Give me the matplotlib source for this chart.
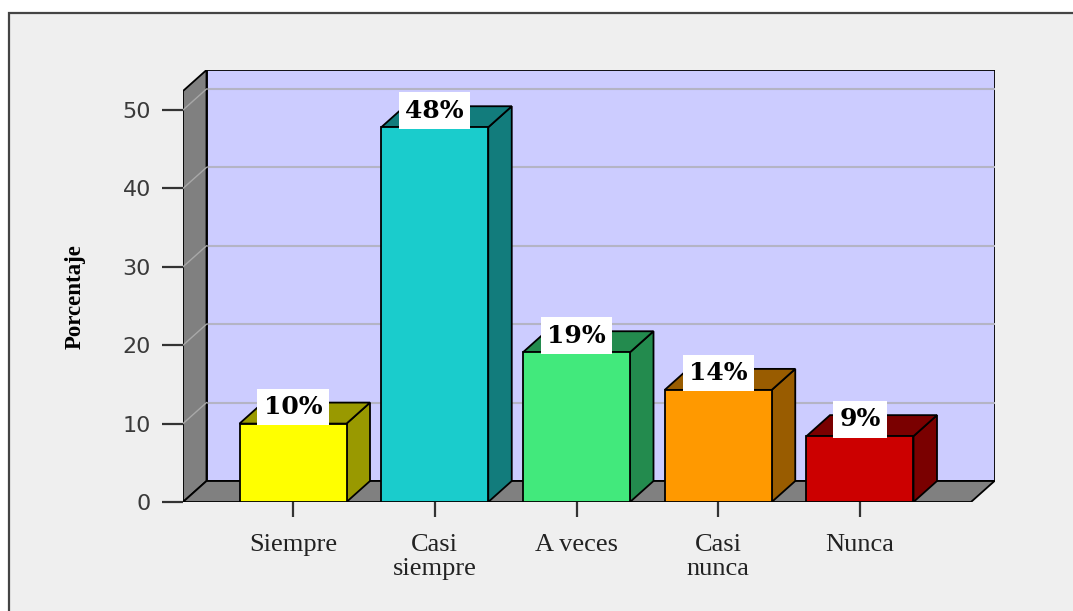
import matplotlib
matplotlib.use("Agg")
import matplotlib.pyplot as plt
from matplotlib.patches import Rectangle, Polygon

# datos
categorias = ["Siempre", "Casi\nsiempre", "A veces", "Casi\nnunca", "Nunca"]
valores = [10, 47.8, 19.1, 14.3, 8.4]
etiquetas = ["10%", "48%", "19%", "14%", "9%"]
frente = ["#FFFF00", "#1ACCCC", "#42E97C", "#FF9900", "#CC0000"]
lado = ["#999900", "#127C7C", "#238B4E", "#995C00", "#7A0000"]
yticks = [0, 10, 20, 30, 40, 50]

W, H = 1073, 611
fig = plt.figure(figsize=(W / 100, H / 100), dpi=100, facecolor="white")

# marco exterior
fig.patches.append(Rectangle((9 / W, -0.1), 1.2, (H - 13) / H + 0.1, transform=fig.transFigure,
                             facecolor="#EFEFEF", edgecolor="#444444", linewidth=1.6, zorder=-10))

# geometria en pixeles -> datos
cx0, paso = 293.0, 141.75      # centro de la primera categoria, separacion
ppu = 7.84                     # pixeles por unidad de porcentaje
x0 = (183 - cx0) / paso
x1 = (995 - cx0) / paso
xf = (971 - cx0) / paso
ymax = (502 - 70) / ppu
dx = 23.5 / paso
dy = 21 / ppu
top = ymax - dy
hw = 53.5 / paso

ax = fig.add_axes([183 / W, (H - 502) / H, (995 - 183) / W, (502 - 70) / H])
ax.set_xlim(x0, x1)
ax.set_ylim(0, ymax)
ax.patch.set_visible(False)
for s in ax.spines.values():
    s.set_visible(False)

# paredes
ax.add_patch(Polygon([(x0 + dx, dy), (x1, dy), (x1, top + dy), (x0 + dx, top + dy)],
                     closed=True, facecolor="#CCCCFF", edgecolor="black", lw=1.3, zorder=1))
ax.add_patch(Polygon([(x0, 0), (x0 + dx, dy), (x0 + dx, top + dy), (x0, top)],
                     closed=True, facecolor="#808080", edgecolor="black", lw=1.3, zorder=2))
ax.add_patch(Polygon([(x0, 0), (xf, 0), (xf + dx, dy), (x0 + dx, dy)],
                     closed=True, facecolor="#808080", edgecolor="black", lw=1.3, zorder=2))

for v in yticks[1:]:
    ax.plot([x0 + dx, x1], [v + dy, v + dy], color="#B4B4C4", lw=1.5, zorder=1.5)
    ax.plot([x0, x0 + dx], [v, v + dy], color="#A8A8A8", lw=1.0, zorder=2.5)

# barras 3D
for i, (v, cf, cl) in enumerate(zip(valores, frente, lado)):
    l, r = i - hw, i + hw
    ax.add_patch(Polygon([(r, 0), (r + dx, dy), (r + dx, v + dy), (r, v)],
                         closed=True, facecolor=cl, edgecolor="black", lw=1.3, zorder=3))
    ax.add_patch(Polygon([(l, v), (r, v), (r + dx, v + dy), (l + dx, v + dy)],
                         closed=True, facecolor=cl, edgecolor="black", lw=1.3, zorder=3))
    ax.add_patch(Polygon([(l, 0), (r, 0), (r, v), (l, v)],
                         closed=True, facecolor=cf, edgecolor="black", lw=1.3, zorder=4))
    ax.annotate(etiquetas[i], (i, v), xytext=(0, 12), textcoords="offset points",
                ha="center", va="center", fontsize=18, fontweight="bold",
                family="DejaVu Serif", color="black", zorder=6,
                bbox=dict(boxstyle="square,pad=0.25", facecolor="white", edgecolor="none"))

# ejes
ax.set_yticks(yticks)
ax.set_yticklabels([str(t) for t in yticks], fontsize=16, color="#3A3A3A", family="DejaVu Sans")
ax.tick_params(axis="y", length=15, width=1.6, color="#333333", pad=8)
ax.set_xticks(range(len(categorias)))
ax.set_xticklabels(categorias, fontsize=19, family="Liberation Serif", color="#222222",
                   linespacing=1.12)
ax.tick_params(axis="x", length=11, width=1.6, color="#333333", pad=12)

fig.text(75 / W, 1 - 297 / H, "Porcentaje", rotation=90, ha="center", va="center",
         fontsize=16.5, fontweight="bold", family="Liberation Serif", color="black")

fig.savefig("out.png", dpi=100, facecolor="white")
